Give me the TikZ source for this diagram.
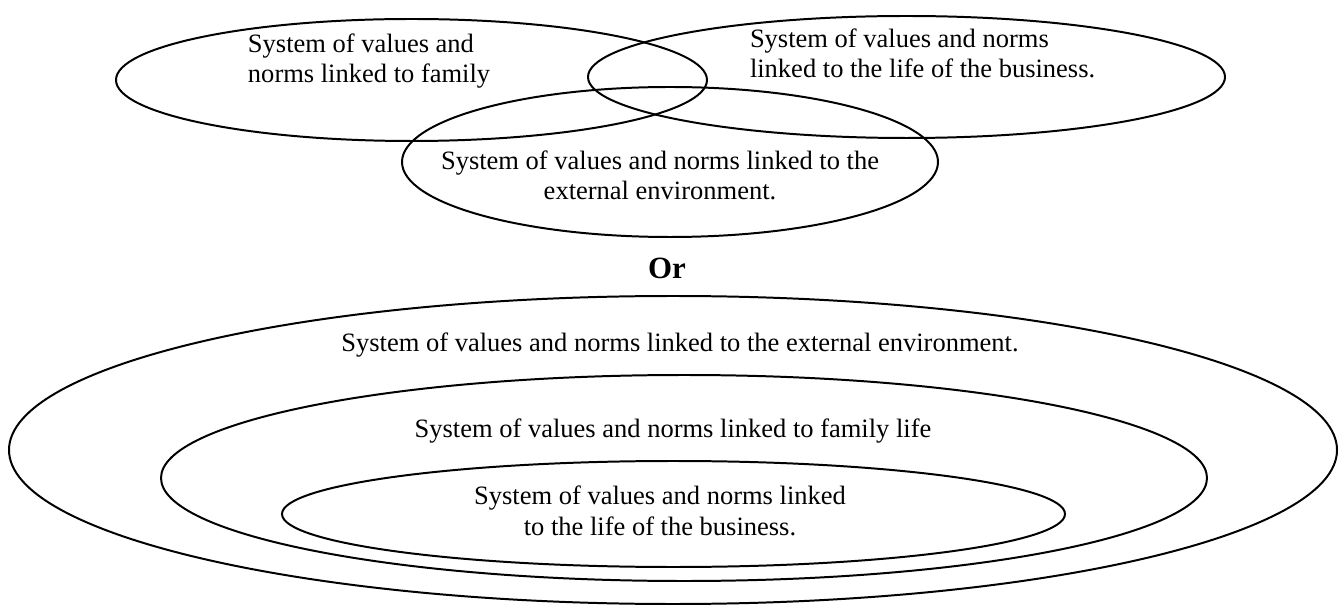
\documentclass[tikz,border=0pt]{standalone}
\usepackage{fontspec}
\setmainfont{Liberation Serif}

\begin{document}
\begin{tikzpicture}[x=0.4528pt,y=-0.4528pt,line width=0.9pt,
    lbl/.style={font=\fontsize{12}{13.6}\selectfont,inner sep=0pt,anchor=base}]
  \useasboundingbox (0,0) rectangle (1341,605);
  % overlapping systems
  \draw (411.5,80) ellipse [x radius=295.5,y radius=61];
  \draw (906.5,77) ellipse [x radius=318.5,y radius=61];
  \draw (670,162) ellipse [x radius=268,y radius=75];
  \node[lbl,align=left,anchor=base west] (family) at (247,83) {System of values and\\norms linked to family};
  \node[lbl,align=left,anchor=base west] (business) at (749,78) {System of values and norms\\linked to the life of the business.};
  \node[lbl,align=center] (external) at (660,200) {System of values and norms linked to the\\external environment.};
  \node[lbl,font=\fontsize{14}{16}\selectfont\bfseries] (or) at (667,279) {Or};
  % nested systems
  \draw (673,450) ellipse [x radius=664,y radius=154];
  \draw (684,478) ellipse [x radius=523,y radius=103];
  \draw (673.5,514) ellipse [x radius=391.5,y radius=53];
  \node[lbl] (outer) at (680,352) {System of values and norms linked to the external environment.};
  \node[lbl] (middle) at (673,437) {System of values and norms linked to family life};
  \node[lbl,align=center] (inner) at (660,535) {System of values and norms linked\\to the life of the business.};
\end{tikzpicture}
\end{document}
